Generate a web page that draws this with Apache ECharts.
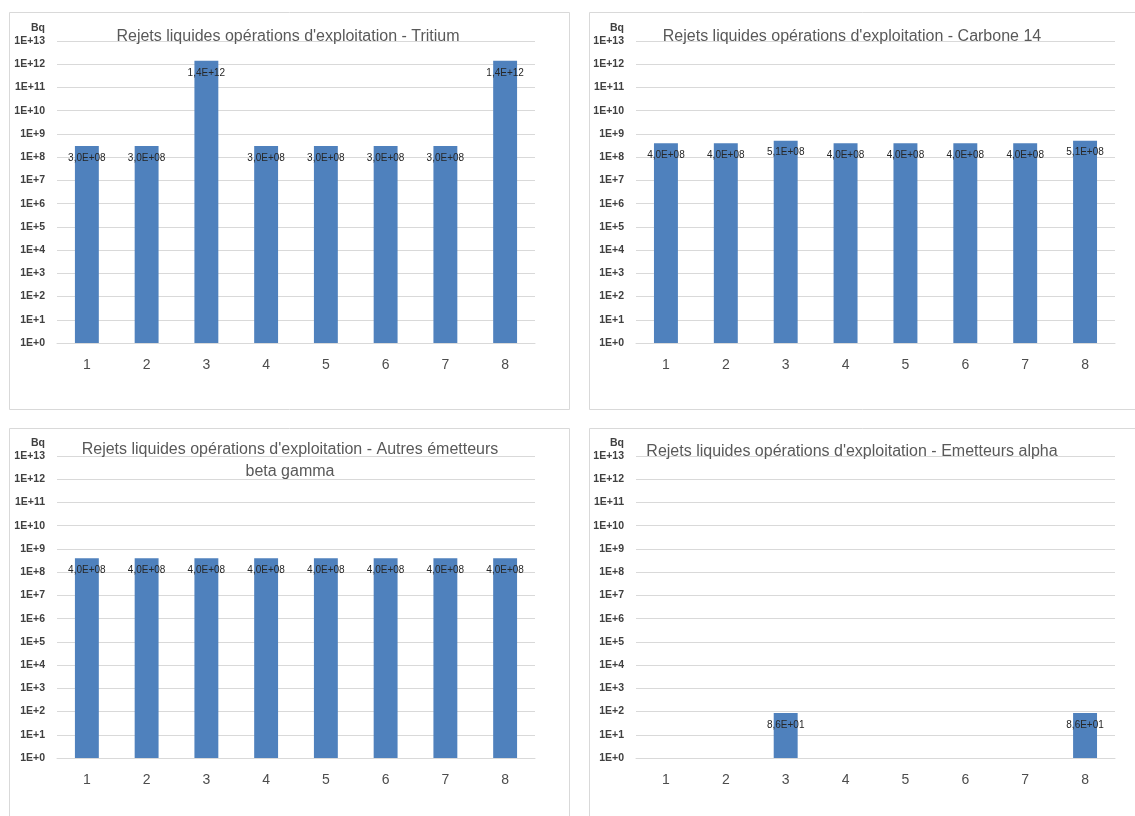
<!DOCTYPE html>
<html>
<head>
<meta charset="utf-8">
<title>Rejets liquides opérations d'exploitation</title>
<script src="https://cdn.jsdelivr.net/npm/echarts@6/dist/echarts.min.js"></script>
<style>
  html, body { margin: 0; padding: 0; background: #ffffff; }
  #chart { width: 1135px; height: 816px; }
</style>
</head>
<body>
<div id="chart"></div>
<script>
// Categories (1 to 8) shared by the four panels
const categories = ['1', '2', '3', '4', '5', '6', '7', '8'];

// Liquid release activity per category, in Bq
const tritium = [3.0e8, 3.0e8, 1.4e12, 3.0e8, 3.0e8, 3.0e8, 3.0e8, 1.4e12];
const carbone14 = [4.0e8, 4.0e8, 5.1e8, 4.0e8, 4.0e8, 4.0e8, 4.0e8, 5.1e8];
const betaGamma = [4.0e8, 4.0e8, 4.0e8, 4.0e8, 4.0e8, 4.0e8, 4.0e8, 4.0e8];
const alpha = [null, null, 86, null, null, null, null, 86];

// Panel titles
const titles = [
  "Rejets liquides opérations d'exploitation - Tritium",
  "Rejets liquides opérations d'exploitation - Carbone 14",
  "Rejets liquides opérations d'exploitation - Autres émetteurs\nbeta gamma",
  "Rejets liquides opérations d'exploitation - Emetteurs alpha"
];

// Log axis range, in Bq
const yMin = 1;
const yMax = 1e13;
const yUnit = 'Bq';

const seriesData = [tritium, carbone14, betaGamma, alpha];

// Panel frames and plotting areas
const panels = [
  { x: 9,   y: 12,  w: 560, h: 397, gridLeft: 57,  gridTop: 41,  titleX: 288, titleY: 26 },
  { x: 589, y: 12,  w: 560, h: 397, gridLeft: 636, gridTop: 41,  titleX: 852, titleY: 26 },
  { x: 9,   y: 428, w: 560, h: 400, gridLeft: 57,  gridTop: 456, titleX: 290, titleY: 439 },
  { x: 589, y: 428, w: 560, h: 400, gridLeft: 636, gridTop: 456, titleX: 852, titleY: 441 }
];
const gridWidths = [478, 479, 478, 479];
const gridHeight = 302;

const numFont = 'Liberation Sans, Arial, sans-serif';
const titleFont = 'Liberation Sans, Arial, sans-serif';

// "3,0E+08" style: one decimal, French comma, two-digit exponent
function sciLabel(v) {
  if (v == null || isNaN(v)) return '';
  let e = Math.floor(Math.log10(v) + 1e-9);
  let m = v / Math.pow(10, e);
  let s = m.toFixed(1);
  if (s === '10.0') { e += 1; s = '1.0'; }
  const sign = e < 0 ? '-' : '+';
  return s.replace('.', ',') + 'E' + sign + String(Math.abs(e)).padStart(2, '0');
}

function tickLabel(v) {
  const e = Math.round(Math.log10(v));
  return '1E' + (e < 0 ? '-' : '+') + Math.abs(e);
}

const chart = echarts.init(document.getElementById('chart'), null, { renderer: 'canvas' });

const option = {
  backgroundColor: '#ffffff',
  animation: false,
  graphic: panels.map(p => ({
    type: 'rect',
    shape: { x: p.x + 0.5, y: p.y + 0.5, width: p.w, height: p.h },
    style: { fill: 'none', stroke: '#d9d9d9', lineWidth: 1 },
    silent: true,
    z: -1
  })),
  title: panels.map((p, i) => ({
    text: titles[i],
    left: p.titleX,
    top: p.titleY,
    textAlign: 'center',
    padding: 0,
    textStyle: {
      fontFamily: titleFont,
      fontSize: 16,
      fontWeight: 'normal',
      color: '#595959',
      lineHeight: 22
    }
  })),
  grid: panels.map((p, i) => ({
    left: p.gridLeft,
    top: p.gridTop,
    width: gridWidths[i],
    height: gridHeight,
    containLabel: false
  })),
  xAxis: panels.map((p, i) => ({
    type: 'category',
    gridIndex: i,
    data: categories,
    axisTick: { show: false },
    axisLine: { show: true, lineStyle: { color: '#d9d9d9', width: 1 } },
    axisLabel: {
      margin: 15,
      fontFamily: numFont,
      fontSize: 14,
      color: '#4d4d4d'
    }
  })),
  yAxis: panels.map((p, i) => ({
    type: 'log',
    logBase: 10,
    gridIndex: i,
    min: yMin,
    max: yMax,
    interval: 1,
    name: yUnit,
    nameLocation: 'end',
    nameGap: 7,
    nameTextStyle: {
      fontFamily: numFont,
      fontSize: 10.5,
      fontWeight: 'bold',
      color: '#404040',
      align: 'right',
      padding: [0, 12, 0, 0]
    },
    axisLine: { show: false },
    axisTick: { show: false },
    splitLine: { show: true, lineStyle: { color: '#d9d9d9', width: 1 } },
    axisLabel: {
      margin: 12,
      fontFamily: numFont,
      fontSize: 10.5,
      fontWeight: 'bold',
      color: '#404040',
      formatter: tickLabel
    }
  })),
  series: seriesData.map((d, i) => ({
    type: 'bar',
    xAxisIndex: i,
    yAxisIndex: i,
    data: d,
    barWidth: '40%',
    itemStyle: { color: '#4f81bd' },
    label: {
      show: true,
      position: 'insideTop',
      distance: 7,
      fontFamily: numFont,
      fontSize: 10,
      color: '#262626',
      formatter: p => sciLabel(p.value)
    }
  }))
};

chart.setOption(option);
</script>
</body>
</html>
